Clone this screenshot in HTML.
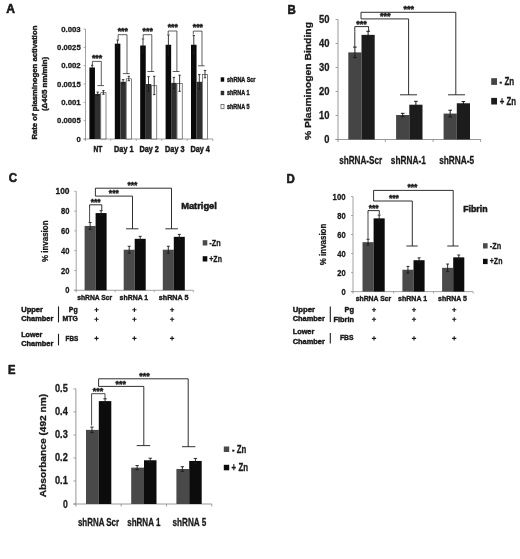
<!DOCTYPE html>
<html lang="en"><head><meta charset="utf-8"><title>Figure</title>
<style>
html,body{margin:0;padding:0;background:#fff;}
body{width:520px;height:559px;overflow:hidden;}
svg{display:block;filter:blur(0.35px);font-family:"Liberation Sans","DejaVu Sans",sans-serif;}
text{stroke:#1a1a1a;stroke-width:0.3px;stroke-linejoin:round;}
#tableC text,#tableD text{stroke-width:0.45px;}
</style></head><body>
<svg width="520" height="559" viewBox="0 0 520 559">
<rect x="0" y="0" width="520" height="559" fill="#ffffff"/>
<g id="panelA">
<text x="6.30" y="12.70" font-size="11.9" font-weight="bold" text-anchor="start" fill="#1a1a1a" textLength="8.70" lengthAdjust="spacingAndGlyphs" style="stroke-width:0.6px">A</text>
<line x1="85.50" y1="29.00" x2="85.50" y2="141.00" stroke="#8c8c8c" stroke-width="0.8" />
<line x1="83.50" y1="139.00" x2="213.00" y2="139.00" stroke="#8c8c8c" stroke-width="0.8" />
<line x1="83.50" y1="139.00" x2="85.50" y2="139.00" stroke="#8c8c8c" stroke-width="0.7" />
<text x="80.70" y="141.80" font-size="7.9" font-weight="bold" text-anchor="end" fill="#1a1a1a" textLength="4.30" lengthAdjust="spacingAndGlyphs" >0</text>
<line x1="83.50" y1="120.67" x2="85.50" y2="120.67" stroke="#8c8c8c" stroke-width="0.7" />
<text x="80.70" y="123.47" font-size="7.9" font-weight="bold" text-anchor="end" fill="#1a1a1a" textLength="23.60" lengthAdjust="spacingAndGlyphs" >0.0005</text>
<line x1="83.50" y1="102.33" x2="85.50" y2="102.33" stroke="#8c8c8c" stroke-width="0.7" />
<text x="80.70" y="105.13" font-size="7.9" font-weight="bold" text-anchor="end" fill="#1a1a1a" textLength="19.50" lengthAdjust="spacingAndGlyphs" >0.001</text>
<line x1="83.50" y1="84.00" x2="85.50" y2="84.00" stroke="#8c8c8c" stroke-width="0.7" />
<text x="80.70" y="86.80" font-size="7.9" font-weight="bold" text-anchor="end" fill="#1a1a1a" textLength="23.60" lengthAdjust="spacingAndGlyphs" >0.0015</text>
<line x1="83.50" y1="65.67" x2="85.50" y2="65.67" stroke="#8c8c8c" stroke-width="0.7" />
<text x="80.70" y="68.47" font-size="7.9" font-weight="bold" text-anchor="end" fill="#1a1a1a" textLength="19.50" lengthAdjust="spacingAndGlyphs" >0.002</text>
<line x1="83.50" y1="47.33" x2="85.50" y2="47.33" stroke="#8c8c8c" stroke-width="0.7" />
<text x="80.70" y="50.13" font-size="7.9" font-weight="bold" text-anchor="end" fill="#1a1a1a" textLength="23.60" lengthAdjust="spacingAndGlyphs" >0.0025</text>
<line x1="83.50" y1="29.00" x2="85.50" y2="29.00" stroke="#8c8c8c" stroke-width="0.7" />
<text x="80.70" y="31.80" font-size="7.9" font-weight="bold" text-anchor="end" fill="#1a1a1a" textLength="19.50" lengthAdjust="spacingAndGlyphs" >0.003</text>
<text x="36.90" y="82.60" font-size="7.6" font-weight="bold" text-anchor="middle" fill="#1a1a1a" textLength="114.00" lengthAdjust="spacingAndGlyphs" transform="rotate(-90 36.90 82.60)" style="stroke-width:0.42px">Rate of plasminogen activation</text>
<text x="47.30" y="83.90" font-size="7.6" font-weight="bold" text-anchor="middle" fill="#1a1a1a" textLength="54.20" lengthAdjust="spacingAndGlyphs" transform="rotate(-90 47.30 83.90)" style="stroke-width:0.42px">(Δ405 nm/min)</text>
<rect x="89.40" y="67.50" width="5.55" height="71.50" fill="#0a0a0a"/>
<rect x="94.95" y="93.90" width="5.55" height="45.10" fill="#2f2f2f"/>
<rect x="100.80" y="92.73" width="5.20" height="46.27" fill="#ffffff" stroke="#333" stroke-width="0.6"/>
<line x1="92.20" y1="65.30" x2="92.20" y2="69.70" stroke="#1a1a1a" stroke-width="0.85" />
<line x1="91.00" y1="65.30" x2="93.40" y2="65.30" stroke="#1a1a1a" stroke-width="0.85" />
<line x1="91.00" y1="69.70" x2="93.40" y2="69.70" stroke="#1a1a1a" stroke-width="0.85" />
<line x1="97.70" y1="92.07" x2="97.70" y2="95.73" stroke="#1a1a1a" stroke-width="0.85" />
<line x1="96.50" y1="92.07" x2="98.90" y2="92.07" stroke="#1a1a1a" stroke-width="0.85" />
<line x1="96.50" y1="95.73" x2="98.90" y2="95.73" stroke="#1a1a1a" stroke-width="0.85" />
<line x1="103.40" y1="90.60" x2="103.40" y2="94.27" stroke="#1a1a1a" stroke-width="0.85" />
<line x1="102.20" y1="90.60" x2="104.60" y2="90.60" stroke="#1a1a1a" stroke-width="0.85" />
<line x1="102.20" y1="94.27" x2="104.60" y2="94.27" stroke="#1a1a1a" stroke-width="0.85" />
<text x="98.00" y="151.60" font-size="9.2" font-weight="bold" text-anchor="middle" fill="#1a1a1a" textLength="8.80" lengthAdjust="spacingAndGlyphs" style="stroke-width:0.5px">NT</text>
<line x1="110.75" y1="139.00" x2="110.75" y2="141.00" stroke="#8c8c8c" stroke-width="0.7" />
<rect x="114.80" y="43.67" width="5.55" height="95.33" fill="#0a0a0a"/>
<rect x="120.35" y="81.80" width="5.55" height="57.20" fill="#2f2f2f"/>
<rect x="126.20" y="78.80" width="5.20" height="60.20" fill="#ffffff" stroke="#333" stroke-width="0.6"/>
<line x1="117.60" y1="40.00" x2="117.60" y2="47.33" stroke="#1a1a1a" stroke-width="0.85" />
<line x1="116.40" y1="40.00" x2="118.80" y2="40.00" stroke="#1a1a1a" stroke-width="0.85" />
<line x1="116.40" y1="47.33" x2="118.80" y2="47.33" stroke="#1a1a1a" stroke-width="0.85" />
<line x1="123.10" y1="79.60" x2="123.10" y2="84.00" stroke="#1a1a1a" stroke-width="0.85" />
<line x1="121.90" y1="79.60" x2="124.30" y2="79.60" stroke="#1a1a1a" stroke-width="0.85" />
<line x1="121.90" y1="84.00" x2="124.30" y2="84.00" stroke="#1a1a1a" stroke-width="0.85" />
<line x1="128.80" y1="76.30" x2="128.80" y2="80.70" stroke="#1a1a1a" stroke-width="0.85" />
<line x1="127.60" y1="76.30" x2="130.00" y2="76.30" stroke="#1a1a1a" stroke-width="0.85" />
<line x1="127.60" y1="80.70" x2="130.00" y2="80.70" stroke="#1a1a1a" stroke-width="0.85" />
<text x="123.80" y="151.60" font-size="9.2" font-weight="bold" text-anchor="middle" fill="#1a1a1a" textLength="19.40" lengthAdjust="spacingAndGlyphs" style="stroke-width:0.5px">Day 1</text>
<line x1="136.25" y1="139.00" x2="136.25" y2="141.00" stroke="#8c8c8c" stroke-width="0.7" />
<rect x="140.20" y="45.50" width="5.55" height="93.50" fill="#0a0a0a"/>
<rect x="145.75" y="84.00" width="5.55" height="55.00" fill="#2f2f2f"/>
<rect x="151.60" y="85.77" width="5.20" height="53.23" fill="#ffffff" stroke="#333" stroke-width="0.6"/>
<line x1="143.00" y1="38.90" x2="143.00" y2="52.10" stroke="#1a1a1a" stroke-width="0.85" />
<line x1="141.80" y1="38.90" x2="144.20" y2="38.90" stroke="#1a1a1a" stroke-width="0.85" />
<line x1="141.80" y1="52.10" x2="144.20" y2="52.10" stroke="#1a1a1a" stroke-width="0.85" />
<line x1="148.50" y1="76.67" x2="148.50" y2="91.33" stroke="#1a1a1a" stroke-width="0.85" />
<line x1="147.30" y1="76.67" x2="149.70" y2="76.67" stroke="#1a1a1a" stroke-width="0.85" />
<line x1="147.30" y1="91.33" x2="149.70" y2="91.33" stroke="#1a1a1a" stroke-width="0.85" />
<line x1="154.20" y1="76.30" x2="154.20" y2="94.63" stroke="#1a1a1a" stroke-width="0.85" />
<line x1="153.00" y1="76.30" x2="155.40" y2="76.30" stroke="#1a1a1a" stroke-width="0.85" />
<line x1="153.00" y1="94.63" x2="155.40" y2="94.63" stroke="#1a1a1a" stroke-width="0.85" />
<text x="149.20" y="151.60" font-size="9.2" font-weight="bold" text-anchor="middle" fill="#1a1a1a" textLength="19.30" lengthAdjust="spacingAndGlyphs" style="stroke-width:0.5px">Day 2</text>
<line x1="161.75" y1="139.00" x2="161.75" y2="141.00" stroke="#8c8c8c" stroke-width="0.7" />
<rect x="165.60" y="44.77" width="5.55" height="94.23" fill="#0a0a0a"/>
<rect x="171.15" y="82.90" width="5.55" height="56.10" fill="#2f2f2f"/>
<rect x="177.00" y="83.57" width="5.20" height="55.43" fill="#ffffff" stroke="#333" stroke-width="0.6"/>
<line x1="168.40" y1="34.87" x2="168.40" y2="54.67" stroke="#1a1a1a" stroke-width="0.85" />
<line x1="167.20" y1="34.87" x2="169.60" y2="34.87" stroke="#1a1a1a" stroke-width="0.85" />
<line x1="167.20" y1="54.67" x2="169.60" y2="54.67" stroke="#1a1a1a" stroke-width="0.85" />
<line x1="173.90" y1="77.40" x2="173.90" y2="88.40" stroke="#1a1a1a" stroke-width="0.85" />
<line x1="172.70" y1="77.40" x2="175.10" y2="77.40" stroke="#1a1a1a" stroke-width="0.85" />
<line x1="172.70" y1="88.40" x2="175.10" y2="88.40" stroke="#1a1a1a" stroke-width="0.85" />
<line x1="179.60" y1="75.20" x2="179.60" y2="91.33" stroke="#1a1a1a" stroke-width="0.85" />
<line x1="178.40" y1="75.20" x2="180.80" y2="75.20" stroke="#1a1a1a" stroke-width="0.85" />
<line x1="178.40" y1="91.33" x2="180.80" y2="91.33" stroke="#1a1a1a" stroke-width="0.85" />
<text x="174.80" y="151.60" font-size="9.2" font-weight="bold" text-anchor="middle" fill="#1a1a1a" textLength="19.40" lengthAdjust="spacingAndGlyphs" style="stroke-width:0.5px">Day 3</text>
<line x1="187.25" y1="139.00" x2="187.25" y2="141.00" stroke="#8c8c8c" stroke-width="0.7" />
<rect x="191.00" y="44.77" width="5.55" height="94.23" fill="#0a0a0a"/>
<rect x="196.55" y="81.80" width="5.55" height="57.20" fill="#2f2f2f"/>
<rect x="202.40" y="74.40" width="5.20" height="64.60" fill="#ffffff" stroke="#333" stroke-width="0.6"/>
<line x1="193.80" y1="35.60" x2="193.80" y2="53.93" stroke="#1a1a1a" stroke-width="0.85" />
<line x1="192.60" y1="35.60" x2="195.00" y2="35.60" stroke="#1a1a1a" stroke-width="0.85" />
<line x1="192.60" y1="53.93" x2="195.00" y2="53.93" stroke="#1a1a1a" stroke-width="0.85" />
<line x1="199.30" y1="74.47" x2="199.30" y2="89.13" stroke="#1a1a1a" stroke-width="0.85" />
<line x1="198.10" y1="74.47" x2="200.50" y2="74.47" stroke="#1a1a1a" stroke-width="0.85" />
<line x1="198.10" y1="89.13" x2="200.50" y2="89.13" stroke="#1a1a1a" stroke-width="0.85" />
<line x1="205.00" y1="70.43" x2="205.00" y2="77.77" stroke="#1a1a1a" stroke-width="0.85" />
<line x1="203.80" y1="70.43" x2="206.20" y2="70.43" stroke="#1a1a1a" stroke-width="0.85" />
<line x1="203.80" y1="77.77" x2="206.20" y2="77.77" stroke="#1a1a1a" stroke-width="0.85" />
<text x="200.20" y="151.60" font-size="9.2" font-weight="bold" text-anchor="middle" fill="#1a1a1a" textLength="19.40" lengthAdjust="spacingAndGlyphs" style="stroke-width:0.5px">Day 4</text>
<line x1="212.75" y1="139.00" x2="212.75" y2="141.00" stroke="#8c8c8c" stroke-width="0.7" />
<path d="M92.4 65 V61.4 H101.3 V85.6 M97.4 85.6 H104" fill="none" stroke="#1a1a1a" stroke-width="0.7" />
<text x="97.05" y="61.20" font-size="8.8" font-weight="bold" text-anchor="middle" fill="#1a1a1a" textLength="10.20" lengthAdjust="spacingAndGlyphs" style="stroke-width:0.5px">***</text>
<path d="M118.1 39.6 V34.7 H127 V73.6 M122.8 73.6 H129.8" fill="none" stroke="#1a1a1a" stroke-width="0.7" />
<text x="122.75" y="34.30" font-size="8.8" font-weight="bold" text-anchor="middle" fill="#1a1a1a" textLength="10.20" lengthAdjust="spacingAndGlyphs" style="stroke-width:0.5px">***</text>
<path d="M143.2 38 V34.7 H151.8 V71.5 M147.3 71.5 H154.2" fill="none" stroke="#1a1a1a" stroke-width="0.7" />
<text x="147.70" y="34.20" font-size="8.8" font-weight="bold" text-anchor="middle" fill="#1a1a1a" textLength="10.20" lengthAdjust="spacingAndGlyphs" style="stroke-width:0.5px">***</text>
<path d="M168.2 34 V31 H176.9 V71.5 M172.7 71.5 H179.6" fill="none" stroke="#1a1a1a" stroke-width="0.7" />
<text x="172.75" y="30.20" font-size="8.8" font-weight="bold" text-anchor="middle" fill="#1a1a1a" textLength="10.20" lengthAdjust="spacingAndGlyphs" style="stroke-width:0.5px">***</text>
<path d="M193.3 34.5 V31.1 H202 V65.8 M198 65.8 H204.6" fill="none" stroke="#1a1a1a" stroke-width="0.7" />
<text x="197.85" y="30.20" font-size="8.8" font-weight="bold" text-anchor="middle" fill="#1a1a1a" textLength="10.20" lengthAdjust="spacingAndGlyphs" style="stroke-width:0.5px">***</text>
<rect x="220.70" y="77.30" width="3.50" height="4.40" fill="#0a0a0a"/>
<text x="227.00" y="81.80" font-size="6.5" font-weight="bold" text-anchor="start" fill="#1a1a1a" textLength="28.50" lengthAdjust="spacingAndGlyphs" style="stroke-width:0.4px">shRNA Scr</text>
<rect x="220.70" y="90.80" width="3.50" height="4.40" fill="#2f2f2f"/>
<text x="227.00" y="95.30" font-size="6.5" font-weight="bold" text-anchor="start" fill="#1a1a1a" textLength="22.50" lengthAdjust="spacingAndGlyphs" style="stroke-width:0.4px">shRNA 1</text>
<rect x="221.00" y="104.60" width="3.00" height="4.20" fill="#fff" stroke="#333" stroke-width="0.6"/>
<text x="227.00" y="108.90" font-size="6.5" font-weight="bold" text-anchor="start" fill="#1a1a1a" textLength="22.50" lengthAdjust="spacingAndGlyphs" style="stroke-width:0.4px">shRNA 5</text>
</g>
<g id="panelB">
<text x="287.40" y="13.70" font-size="12" font-weight="bold" text-anchor="start" fill="#1a1a1a" textLength="8.30" lengthAdjust="spacingAndGlyphs" style="stroke-width:0.6px">B</text>
<line x1="338.00" y1="19.50" x2="338.00" y2="142.00" stroke="#8c8c8c" stroke-width="0.9" />
<line x1="335.50" y1="139.50" x2="481.00" y2="139.50" stroke="#8c8c8c" stroke-width="0.9" />
<line x1="335.50" y1="139.50" x2="338.00" y2="139.50" stroke="#8c8c8c" stroke-width="0.8" />
<text x="329.40" y="143.00" font-size="10.6" font-weight="bold" text-anchor="end" fill="#1a1a1a" textLength="5.20" lengthAdjust="spacingAndGlyphs" >0</text>
<line x1="335.50" y1="115.50" x2="338.00" y2="115.50" stroke="#8c8c8c" stroke-width="0.8" />
<text x="329.40" y="119.00" font-size="10.6" font-weight="bold" text-anchor="end" fill="#1a1a1a" textLength="10.50" lengthAdjust="spacingAndGlyphs" >10</text>
<line x1="335.50" y1="91.50" x2="338.00" y2="91.50" stroke="#8c8c8c" stroke-width="0.8" />
<text x="329.40" y="95.00" font-size="10.6" font-weight="bold" text-anchor="end" fill="#1a1a1a" textLength="10.50" lengthAdjust="spacingAndGlyphs" >20</text>
<line x1="335.50" y1="67.50" x2="338.00" y2="67.50" stroke="#8c8c8c" stroke-width="0.8" />
<text x="329.40" y="71.00" font-size="10.6" font-weight="bold" text-anchor="end" fill="#1a1a1a" textLength="10.50" lengthAdjust="spacingAndGlyphs" >30</text>
<line x1="335.50" y1="43.50" x2="338.00" y2="43.50" stroke="#8c8c8c" stroke-width="0.8" />
<text x="329.40" y="47.00" font-size="10.6" font-weight="bold" text-anchor="end" fill="#1a1a1a" textLength="10.50" lengthAdjust="spacingAndGlyphs" >40</text>
<line x1="335.50" y1="19.50" x2="338.00" y2="19.50" stroke="#8c8c8c" stroke-width="0.8" />
<text x="329.40" y="23.00" font-size="10.6" font-weight="bold" text-anchor="end" fill="#1a1a1a" textLength="10.50" lengthAdjust="spacingAndGlyphs" >50</text>
<text x="311.30" y="81.00" font-size="9.9" font-weight="bold" text-anchor="middle" fill="#1a1a1a" textLength="118.00" lengthAdjust="spacingAndGlyphs" transform="rotate(-90 311.30 81.00)" >% Plasminogen Binding</text>
<rect x="348.30" y="52.38" width="13.20" height="87.12" fill="#454545"/>
<rect x="361.50" y="34.86" width="13.20" height="104.64" fill="#1c1c1c"/>
<line x1="354.90" y1="47.10" x2="354.90" y2="57.66" stroke="#1a1a1a" stroke-width="1.0" />
<line x1="353.10" y1="47.10" x2="356.70" y2="47.10" stroke="#1a1a1a" stroke-width="1.0" />
<line x1="353.10" y1="57.66" x2="356.70" y2="57.66" stroke="#1a1a1a" stroke-width="1.0" />
<line x1="368.10" y1="31.26" x2="368.10" y2="38.46" stroke="#1a1a1a" stroke-width="1.0" />
<line x1="366.30" y1="31.26" x2="369.90" y2="31.26" stroke="#1a1a1a" stroke-width="1.0" />
<line x1="366.30" y1="38.46" x2="369.90" y2="38.46" stroke="#1a1a1a" stroke-width="1.0" />
<text x="360.70" y="163.50" font-size="10.6" font-weight="bold" text-anchor="middle" fill="#1a1a1a" textLength="43.00" lengthAdjust="spacingAndGlyphs" >shRNA-Scr</text>
<line x1="385.30" y1="139.50" x2="385.30" y2="142.00" stroke="#8c8c8c" stroke-width="0.8" />
<rect x="396.10" y="115.02" width="13.20" height="24.48" fill="#454545"/>
<rect x="409.30" y="104.70" width="13.20" height="34.80" fill="#1c1c1c"/>
<line x1="402.70" y1="113.34" x2="402.70" y2="116.70" stroke="#1a1a1a" stroke-width="1.0" />
<line x1="400.90" y1="113.34" x2="404.50" y2="113.34" stroke="#1a1a1a" stroke-width="1.0" />
<line x1="400.90" y1="116.70" x2="404.50" y2="116.70" stroke="#1a1a1a" stroke-width="1.0" />
<line x1="415.90" y1="101.34" x2="415.90" y2="108.06" stroke="#1a1a1a" stroke-width="1.0" />
<line x1="414.10" y1="101.34" x2="417.70" y2="101.34" stroke="#1a1a1a" stroke-width="1.0" />
<line x1="414.10" y1="108.06" x2="417.70" y2="108.06" stroke="#1a1a1a" stroke-width="1.0" />
<text x="408.30" y="163.50" font-size="10.6" font-weight="bold" text-anchor="middle" fill="#1a1a1a" textLength="35.00" lengthAdjust="spacingAndGlyphs" >shRNA-1</text>
<line x1="433.10" y1="139.50" x2="433.10" y2="142.00" stroke="#8c8c8c" stroke-width="0.8" />
<rect x="443.60" y="113.58" width="13.20" height="25.92" fill="#454545"/>
<rect x="456.80" y="103.26" width="13.20" height="36.24" fill="#1c1c1c"/>
<line x1="450.20" y1="110.22" x2="450.20" y2="116.94" stroke="#1a1a1a" stroke-width="1.0" />
<line x1="448.40" y1="110.22" x2="452.00" y2="110.22" stroke="#1a1a1a" stroke-width="1.0" />
<line x1="448.40" y1="116.94" x2="452.00" y2="116.94" stroke="#1a1a1a" stroke-width="1.0" />
<line x1="463.40" y1="101.58" x2="463.40" y2="104.94" stroke="#1a1a1a" stroke-width="1.0" />
<line x1="461.60" y1="101.58" x2="465.20" y2="101.58" stroke="#1a1a1a" stroke-width="1.0" />
<line x1="461.60" y1="104.94" x2="465.20" y2="104.94" stroke="#1a1a1a" stroke-width="1.0" />
<text x="456.70" y="163.50" font-size="10.6" font-weight="bold" text-anchor="middle" fill="#1a1a1a" textLength="35.00" lengthAdjust="spacingAndGlyphs" >shRNA-5</text>
<line x1="480.60" y1="139.50" x2="480.60" y2="142.00" stroke="#8c8c8c" stroke-width="0.8" />
<path d="M361 18.9 V12.3 H455.8 V94.8 M448 94.8 H465" fill="none" stroke="#1a1a1a" stroke-width="0.9" />
<path d="M361 18.9 H408.6 V94.8 M400 94.8 H417" fill="none" stroke="#1a1a1a" stroke-width="0.9" />
<path d="M354.8 31.5 V26.6 H368.6 V31.7" fill="none" stroke="#1a1a1a" stroke-width="0.9" />
<line x1="354.80" y1="31.50" x2="354.80" y2="47.00" stroke="#1a1a1a" stroke-width="0.9" />
<text x="361.60" y="26.80" font-size="9" font-weight="bold" text-anchor="middle" fill="#1a1a1a" textLength="10.60" lengthAdjust="spacingAndGlyphs" style="stroke-width:0.5px">***</text>
<text x="385.20" y="19.20" font-size="9" font-weight="bold" text-anchor="middle" fill="#1a1a1a" textLength="10.60" lengthAdjust="spacingAndGlyphs" style="stroke-width:0.5px">***</text>
<text x="408.70" y="12.00" font-size="9" font-weight="bold" text-anchor="middle" fill="#1a1a1a" textLength="10.60" lengthAdjust="spacingAndGlyphs" style="stroke-width:0.5px">***</text>
<rect x="491.20" y="78.20" width="5.80" height="6.70" fill="#454545"/>
<text x="499.50" y="84.90" font-size="10.2" font-weight="bold" text-anchor="start" fill="#1a1a1a" textLength="14.70" lengthAdjust="spacingAndGlyphs" >- Zn</text>
<rect x="491.20" y="97.90" width="5.80" height="6.60" fill="#1c1c1c"/>
<text x="499.80" y="104.50" font-size="10.2" font-weight="bold" text-anchor="start" fill="#1a1a1a" textLength="16.30" lengthAdjust="spacingAndGlyphs" >+ Zn</text>
</g>
<g id="panelC">
<text x="8.70" y="182.20" font-size="12.2" font-weight="bold" text-anchor="start" fill="#1a1a1a" textLength="8.30" lengthAdjust="spacingAndGlyphs" style="stroke-width:0.6px">C</text>
<line x1="76.20" y1="191.30" x2="76.20" y2="292.30" stroke="#8c8c8c" stroke-width="0.8" />
<line x1="74.20" y1="290.30" x2="193.50" y2="290.30" stroke="#8c8c8c" stroke-width="0.8" />
<line x1="74.20" y1="290.30" x2="76.20" y2="290.30" stroke="#8c8c8c" stroke-width="0.7" />
<text x="69.50" y="293.30" font-size="9" font-weight="bold" text-anchor="end" fill="#1a1a1a" textLength="4.20" lengthAdjust="spacingAndGlyphs" >0</text>
<line x1="74.20" y1="270.50" x2="76.20" y2="270.50" stroke="#8c8c8c" stroke-width="0.7" />
<text x="69.50" y="273.50" font-size="9" font-weight="bold" text-anchor="end" fill="#1a1a1a" textLength="8.40" lengthAdjust="spacingAndGlyphs" >20</text>
<line x1="74.20" y1="250.70" x2="76.20" y2="250.70" stroke="#8c8c8c" stroke-width="0.7" />
<text x="69.50" y="253.70" font-size="9" font-weight="bold" text-anchor="end" fill="#1a1a1a" textLength="8.40" lengthAdjust="spacingAndGlyphs" >40</text>
<line x1="74.20" y1="230.90" x2="76.20" y2="230.90" stroke="#8c8c8c" stroke-width="0.7" />
<text x="69.50" y="233.90" font-size="9" font-weight="bold" text-anchor="end" fill="#1a1a1a" textLength="8.40" lengthAdjust="spacingAndGlyphs" >60</text>
<line x1="74.20" y1="211.10" x2="76.20" y2="211.10" stroke="#8c8c8c" stroke-width="0.7" />
<text x="69.50" y="214.10" font-size="9" font-weight="bold" text-anchor="end" fill="#1a1a1a" textLength="8.40" lengthAdjust="spacingAndGlyphs" >80</text>
<line x1="74.20" y1="191.30" x2="76.20" y2="191.30" stroke="#8c8c8c" stroke-width="0.7" />
<text x="69.50" y="194.30" font-size="9" font-weight="bold" text-anchor="end" fill="#1a1a1a" textLength="14.00" lengthAdjust="spacingAndGlyphs" >100</text>
<text x="48.20" y="241.20" font-size="8.8" font-weight="bold" text-anchor="middle" fill="#1a1a1a" textLength="41.50" lengthAdjust="spacingAndGlyphs" transform="rotate(-90 48.20 241.20)" >% invasion</text>
<rect x="84.60" y="225.95" width="11.00" height="64.35" fill="#4a4a4a"/>
<rect x="95.60" y="213.08" width="11.00" height="77.22" fill="#0c0c0c"/>
<line x1="90.10" y1="222.49" x2="90.10" y2="229.42" stroke="#1a1a1a" stroke-width="0.9" />
<line x1="88.60" y1="222.49" x2="91.60" y2="222.49" stroke="#1a1a1a" stroke-width="0.9" />
<line x1="88.60" y1="229.42" x2="91.60" y2="229.42" stroke="#1a1a1a" stroke-width="0.9" />
<line x1="101.10" y1="210.61" x2="101.10" y2="215.56" stroke="#1a1a1a" stroke-width="0.9" />
<line x1="99.60" y1="210.61" x2="102.60" y2="210.61" stroke="#1a1a1a" stroke-width="0.9" />
<line x1="99.60" y1="215.56" x2="102.60" y2="215.56" stroke="#1a1a1a" stroke-width="0.9" />
<line x1="115.15" y1="290.30" x2="115.15" y2="292.30" stroke="#8c8c8c" stroke-width="0.7" />
<rect x="123.70" y="249.71" width="11.00" height="40.59" fill="#4a4a4a"/>
<rect x="134.70" y="238.82" width="11.00" height="51.48" fill="#0c0c0c"/>
<line x1="129.20" y1="246.25" x2="129.20" y2="253.18" stroke="#1a1a1a" stroke-width="0.9" />
<line x1="127.70" y1="246.25" x2="130.70" y2="246.25" stroke="#1a1a1a" stroke-width="0.9" />
<line x1="127.70" y1="253.18" x2="130.70" y2="253.18" stroke="#1a1a1a" stroke-width="0.9" />
<line x1="140.20" y1="236.35" x2="140.20" y2="241.30" stroke="#1a1a1a" stroke-width="0.9" />
<line x1="138.70" y1="236.35" x2="141.70" y2="236.35" stroke="#1a1a1a" stroke-width="0.9" />
<line x1="138.70" y1="241.30" x2="141.70" y2="241.30" stroke="#1a1a1a" stroke-width="0.9" />
<line x1="154.25" y1="290.30" x2="154.25" y2="292.30" stroke="#8c8c8c" stroke-width="0.7" />
<rect x="162.80" y="249.71" width="11.00" height="40.59" fill="#4a4a4a"/>
<rect x="173.80" y="236.84" width="11.00" height="53.46" fill="#0c0c0c"/>
<line x1="168.30" y1="246.25" x2="168.30" y2="253.18" stroke="#1a1a1a" stroke-width="0.9" />
<line x1="166.80" y1="246.25" x2="169.80" y2="246.25" stroke="#1a1a1a" stroke-width="0.9" />
<line x1="166.80" y1="253.18" x2="169.80" y2="253.18" stroke="#1a1a1a" stroke-width="0.9" />
<line x1="179.30" y1="234.37" x2="179.30" y2="239.31" stroke="#1a1a1a" stroke-width="0.9" />
<line x1="177.80" y1="234.37" x2="180.80" y2="234.37" stroke="#1a1a1a" stroke-width="0.9" />
<line x1="177.80" y1="239.31" x2="180.80" y2="239.31" stroke="#1a1a1a" stroke-width="0.9" />
<line x1="193.35" y1="290.30" x2="193.35" y2="292.30" stroke="#8c8c8c" stroke-width="0.7" />
<text x="181.20" y="208.80" font-size="9.3" font-weight="bold" text-anchor="start" fill="#1a1a1a" textLength="35.70" lengthAdjust="spacingAndGlyphs" style="stroke-width:0.55px">Matrigel</text>
<path d="M95.4 196.1 V188.2 H171.5 V228.8 M165.4 228.8 H177.9" fill="none" stroke="#1a1a1a" stroke-width="0.9" />
<path d="M95.4 196.1 H132.5 V228.8 M126.1 228.8 H138.5" fill="none" stroke="#1a1a1a" stroke-width="0.9" />
<path d="M89.6 208.8 V204.8 H101.8 V210" fill="none" stroke="#1a1a1a" stroke-width="0.9" />
<line x1="89.60" y1="208.80" x2="89.60" y2="222.00" stroke="#1a1a1a" stroke-width="0.8" />
<text x="95.70" y="205.30" font-size="8.6" font-weight="bold" text-anchor="middle" fill="#1a1a1a" textLength="10.00" lengthAdjust="spacingAndGlyphs" style="stroke-width:0.45px">***</text>
<text x="113.80" y="196.40" font-size="8.6" font-weight="bold" text-anchor="middle" fill="#1a1a1a" textLength="10.00" lengthAdjust="spacingAndGlyphs" style="stroke-width:0.45px">***</text>
<text x="132.45" y="188.20" font-size="8.6" font-weight="bold" text-anchor="middle" fill="#1a1a1a" textLength="10.00" lengthAdjust="spacingAndGlyphs" style="stroke-width:0.45px">***</text>
<rect x="202.70" y="240.20" width="4.60" height="5.30" fill="#4a4a4a"/>
<text x="209.30" y="245.50" font-size="9.2" font-weight="bold" text-anchor="start" fill="#1a1a1a" textLength="11.40" lengthAdjust="spacingAndGlyphs" >-Zn</text>
<rect x="202.70" y="256.20" width="4.60" height="5.30" fill="#0c0c0c"/>
<text x="209.30" y="261.50" font-size="9.2" font-weight="bold" text-anchor="start" fill="#1a1a1a" textLength="12.60" lengthAdjust="spacingAndGlyphs" >+Zn</text>
<text x="77.20" y="299.80" font-size="7.4" font-weight="bold" text-anchor="start" fill="#1a1a1a" textLength="35.00" lengthAdjust="spacingAndGlyphs" style="stroke-width:0.42px">shRNA Scr</text>
<text x="119.60" y="299.80" font-size="7.4" font-weight="bold" text-anchor="start" fill="#1a1a1a" textLength="28.60" lengthAdjust="spacingAndGlyphs" style="stroke-width:0.42px">shRNA 1</text>
<text x="158.80" y="299.80" font-size="7.4" font-weight="bold" text-anchor="start" fill="#1a1a1a" textLength="29.60" lengthAdjust="spacingAndGlyphs" style="stroke-width:0.42px">shRNA 5</text>
</g>
<g id="tableC" style="stroke-width:0.45px">
<text x="21.20" y="312.10" font-size="7.6" font-weight="bold" text-anchor="start" fill="#1a1a1a" textLength="21.80" lengthAdjust="spacingAndGlyphs" >Upper</text>
<text x="21.20" y="321.00" font-size="7.6" font-weight="bold" text-anchor="start" fill="#1a1a1a" textLength="32.10" lengthAdjust="spacingAndGlyphs" >Chamber</text>
<line x1="58.50" y1="306.40" x2="58.50" y2="322.40" stroke="#1a1a1a" stroke-width="1.1" />
<text x="77.60" y="312.20" font-size="7.4" font-weight="bold" text-anchor="end" fill="#1a1a1a" textLength="8.80" lengthAdjust="spacingAndGlyphs" >Pg</text>
<text x="77.80" y="321.10" font-size="7.4" font-weight="bold" text-anchor="end" fill="#1a1a1a" textLength="15.20" lengthAdjust="spacingAndGlyphs" >MTG</text>
<text x="21.20" y="337.10" font-size="7.6" font-weight="bold" text-anchor="start" fill="#1a1a1a" textLength="21.20" lengthAdjust="spacingAndGlyphs" >Lower</text>
<text x="21.20" y="346.20" font-size="7.6" font-weight="bold" text-anchor="start" fill="#1a1a1a" textLength="32.10" lengthAdjust="spacingAndGlyphs" >Chamber</text>
<line x1="58.50" y1="333.80" x2="58.50" y2="345.40" stroke="#1a1a1a" stroke-width="1.1" />
<text x="78.30" y="340.80" font-size="7.4" font-weight="bold" text-anchor="end" fill="#1a1a1a" textLength="12.70" lengthAdjust="spacingAndGlyphs" >FBS</text>
<path d="M94.4 309.8 H98.6 M96.5 307.7 V311.90000000000003" fill="none" stroke="#1a1a1a" stroke-width="1.1" />
<path d="M94.4 319.3 H98.6 M96.5 317.2 V321.40000000000003" fill="none" stroke="#1a1a1a" stroke-width="1.1" />
<path d="M94.4 338.4 H98.6 M96.5 336.29999999999995 V340.5" fill="none" stroke="#1a1a1a" stroke-width="1.1" />
<path d="M132.3 309.8 H136.5 M134.4 307.7 V311.90000000000003" fill="none" stroke="#1a1a1a" stroke-width="1.1" />
<path d="M132.3 319.3 H136.5 M134.4 317.2 V321.40000000000003" fill="none" stroke="#1a1a1a" stroke-width="1.1" />
<path d="M132.3 338.4 H136.5 M134.4 336.29999999999995 V340.5" fill="none" stroke="#1a1a1a" stroke-width="1.1" />
<path d="M170.0 309.8 H174.2 M172.1 307.7 V311.90000000000003" fill="none" stroke="#1a1a1a" stroke-width="1.1" />
<path d="M170.0 319.3 H174.2 M172.1 317.2 V321.40000000000003" fill="none" stroke="#1a1a1a" stroke-width="1.1" />
<path d="M170.0 338.4 H174.2 M172.1 336.29999999999995 V340.5" fill="none" stroke="#1a1a1a" stroke-width="1.1" />
</g>
<g id="panelD">
<text x="286.40" y="183.10" font-size="12.2" font-weight="bold" text-anchor="start" fill="#1a1a1a" textLength="8.30" lengthAdjust="spacingAndGlyphs" style="stroke-width:0.6px">D</text>
<line x1="353.00" y1="196.50" x2="353.00" y2="293.60" stroke="#8c8c8c" stroke-width="0.8" />
<line x1="351.00" y1="291.60" x2="473.00" y2="291.60" stroke="#8c8c8c" stroke-width="0.8" />
<line x1="351.00" y1="291.60" x2="353.00" y2="291.60" stroke="#8c8c8c" stroke-width="0.7" />
<text x="345.60" y="294.60" font-size="9" font-weight="bold" text-anchor="end" fill="#1a1a1a" textLength="4.20" lengthAdjust="spacingAndGlyphs" >0</text>
<line x1="351.00" y1="272.58" x2="353.00" y2="272.58" stroke="#8c8c8c" stroke-width="0.7" />
<text x="345.60" y="275.58" font-size="9" font-weight="bold" text-anchor="end" fill="#1a1a1a" textLength="8.40" lengthAdjust="spacingAndGlyphs" >20</text>
<line x1="351.00" y1="253.56" x2="353.00" y2="253.56" stroke="#8c8c8c" stroke-width="0.7" />
<text x="345.60" y="256.56" font-size="9" font-weight="bold" text-anchor="end" fill="#1a1a1a" textLength="8.40" lengthAdjust="spacingAndGlyphs" >40</text>
<line x1="351.00" y1="234.54" x2="353.00" y2="234.54" stroke="#8c8c8c" stroke-width="0.7" />
<text x="345.60" y="237.54" font-size="9" font-weight="bold" text-anchor="end" fill="#1a1a1a" textLength="8.40" lengthAdjust="spacingAndGlyphs" >60</text>
<line x1="351.00" y1="215.52" x2="353.00" y2="215.52" stroke="#8c8c8c" stroke-width="0.7" />
<text x="345.60" y="218.52" font-size="9" font-weight="bold" text-anchor="end" fill="#1a1a1a" textLength="8.40" lengthAdjust="spacingAndGlyphs" >80</text>
<line x1="351.00" y1="196.50" x2="353.00" y2="196.50" stroke="#8c8c8c" stroke-width="0.7" />
<text x="345.60" y="199.50" font-size="9" font-weight="bold" text-anchor="end" fill="#1a1a1a" textLength="13.00" lengthAdjust="spacingAndGlyphs" >100</text>
<text x="326.50" y="244.45" font-size="8.8" font-weight="bold" text-anchor="middle" fill="#1a1a1a" textLength="41.50" lengthAdjust="spacingAndGlyphs" transform="rotate(-90 326.50 244.45)" >% invasion</text>
<rect x="362.50" y="242.15" width="11.10" height="49.45" fill="#4a4a4a"/>
<rect x="373.60" y="218.37" width="11.10" height="73.23" fill="#0c0c0c"/>
<line x1="368.05" y1="239.30" x2="368.05" y2="245.00" stroke="#1a1a1a" stroke-width="0.9" />
<line x1="366.55" y1="239.30" x2="369.55" y2="239.30" stroke="#1a1a1a" stroke-width="0.9" />
<line x1="366.55" y1="245.00" x2="369.55" y2="245.00" stroke="#1a1a1a" stroke-width="0.9" />
<line x1="379.15" y1="215.04" x2="379.15" y2="221.70" stroke="#1a1a1a" stroke-width="0.9" />
<line x1="377.65" y1="215.04" x2="380.65" y2="215.04" stroke="#1a1a1a" stroke-width="0.9" />
<line x1="377.65" y1="221.70" x2="380.65" y2="221.70" stroke="#1a1a1a" stroke-width="0.9" />
<line x1="393.60" y1="291.60" x2="393.60" y2="293.60" stroke="#8c8c8c" stroke-width="0.7" />
<rect x="402.40" y="269.73" width="11.10" height="21.87" fill="#4a4a4a"/>
<rect x="413.50" y="260.22" width="11.10" height="31.38" fill="#0c0c0c"/>
<line x1="407.95" y1="266.40" x2="407.95" y2="273.06" stroke="#1a1a1a" stroke-width="0.9" />
<line x1="406.45" y1="266.40" x2="409.45" y2="266.40" stroke="#1a1a1a" stroke-width="0.9" />
<line x1="406.45" y1="273.06" x2="409.45" y2="273.06" stroke="#1a1a1a" stroke-width="0.9" />
<line x1="419.05" y1="257.84" x2="419.05" y2="262.59" stroke="#1a1a1a" stroke-width="0.9" />
<line x1="417.55" y1="257.84" x2="420.55" y2="257.84" stroke="#1a1a1a" stroke-width="0.9" />
<line x1="417.55" y1="262.59" x2="420.55" y2="262.59" stroke="#1a1a1a" stroke-width="0.9" />
<line x1="433.50" y1="291.60" x2="433.50" y2="293.60" stroke="#8c8c8c" stroke-width="0.7" />
<rect x="442.10" y="267.83" width="11.10" height="23.77" fill="#4a4a4a"/>
<rect x="453.20" y="257.36" width="11.10" height="34.24" fill="#0c0c0c"/>
<line x1="447.65" y1="264.02" x2="447.65" y2="271.63" stroke="#1a1a1a" stroke-width="0.9" />
<line x1="446.15" y1="264.02" x2="449.15" y2="264.02" stroke="#1a1a1a" stroke-width="0.9" />
<line x1="446.15" y1="271.63" x2="449.15" y2="271.63" stroke="#1a1a1a" stroke-width="0.9" />
<line x1="458.75" y1="254.99" x2="458.75" y2="259.74" stroke="#1a1a1a" stroke-width="0.9" />
<line x1="457.25" y1="254.99" x2="460.25" y2="254.99" stroke="#1a1a1a" stroke-width="0.9" />
<line x1="457.25" y1="259.74" x2="460.25" y2="259.74" stroke="#1a1a1a" stroke-width="0.9" />
<line x1="473.20" y1="291.60" x2="473.20" y2="293.60" stroke="#8c8c8c" stroke-width="0.7" />
<text x="463.20" y="212.30" font-size="9.3" font-weight="bold" text-anchor="start" fill="#1a1a1a" textLength="24.40" lengthAdjust="spacingAndGlyphs" style="stroke-width:0.55px">Fibrin</text>
<path d="M373.6 201 V190.4 H453.2 V246 M447.3 246 H458.6" fill="none" stroke="#1a1a1a" stroke-width="0.9" />
<path d="M373.6 201 H412.3 V246 M406.4 246 H417.7" fill="none" stroke="#1a1a1a" stroke-width="0.9" />
<path d="M368 214.6 V210.6 H379.3 V214.4" fill="none" stroke="#1a1a1a" stroke-width="0.9" />
<line x1="368.00" y1="214.60" x2="368.00" y2="239.00" stroke="#1a1a1a" stroke-width="0.8" />
<text x="373.65" y="211.10" font-size="8.6" font-weight="bold" text-anchor="middle" fill="#1a1a1a" textLength="10.00" lengthAdjust="spacingAndGlyphs" style="stroke-width:0.45px">***</text>
<text x="393.90" y="201.30" font-size="8.6" font-weight="bold" text-anchor="middle" fill="#1a1a1a" textLength="10.00" lengthAdjust="spacingAndGlyphs" style="stroke-width:0.45px">***</text>
<text x="412.40" y="190.40" font-size="8.6" font-weight="bold" text-anchor="middle" fill="#1a1a1a" textLength="10.00" lengthAdjust="spacingAndGlyphs" style="stroke-width:0.45px">***</text>
<rect x="483.00" y="243.20" width="4.60" height="5.30" fill="#4a4a4a"/>
<text x="489.80" y="248.50" font-size="9.2" font-weight="bold" text-anchor="start" fill="#1a1a1a" textLength="11.40" lengthAdjust="spacingAndGlyphs" >-Zn</text>
<rect x="483.00" y="258.80" width="4.60" height="5.30" fill="#0c0c0c"/>
<text x="489.80" y="264.10" font-size="9.2" font-weight="bold" text-anchor="start" fill="#1a1a1a" textLength="12.60" lengthAdjust="spacingAndGlyphs" >+Zn</text>
<text x="355.70" y="300.50" font-size="7.4" font-weight="bold" text-anchor="start" fill="#1a1a1a" textLength="35.50" lengthAdjust="spacingAndGlyphs" style="stroke-width:0.42px">shRNA Scr</text>
<text x="398.10" y="300.50" font-size="7.4" font-weight="bold" text-anchor="start" fill="#1a1a1a" textLength="29.00" lengthAdjust="spacingAndGlyphs" style="stroke-width:0.42px">shRNA 1</text>
<text x="438.10" y="300.50" font-size="7.4" font-weight="bold" text-anchor="start" fill="#1a1a1a" textLength="28.80" lengthAdjust="spacingAndGlyphs" style="stroke-width:0.42px">shRNA 5</text>
</g>
<g id="tableD" style="stroke-width:0.45px">
<text x="292.70" y="312.20" font-size="7.6" font-weight="bold" text-anchor="start" fill="#1a1a1a" textLength="22.30" lengthAdjust="spacingAndGlyphs" >Upper</text>
<text x="292.70" y="321.30" font-size="7.6" font-weight="bold" text-anchor="start" fill="#1a1a1a" textLength="32.10" lengthAdjust="spacingAndGlyphs" >Chamber</text>
<line x1="330.30" y1="306.60" x2="330.30" y2="322.00" stroke="#1a1a1a" stroke-width="1.1" />
<text x="354.00" y="312.20" font-size="7.4" font-weight="bold" text-anchor="end" fill="#1a1a1a" textLength="9.50" lengthAdjust="spacingAndGlyphs" >Pg</text>
<text x="354.00" y="321.70" font-size="7.4" font-weight="bold" text-anchor="end" fill="#1a1a1a" textLength="20.50" lengthAdjust="spacingAndGlyphs" >Fibrin</text>
<text x="292.70" y="334.40" font-size="7.6" font-weight="bold" text-anchor="start" fill="#1a1a1a" textLength="21.60" lengthAdjust="spacingAndGlyphs" >Lower</text>
<text x="292.70" y="343.50" font-size="7.6" font-weight="bold" text-anchor="start" fill="#1a1a1a" textLength="32.10" lengthAdjust="spacingAndGlyphs" >Chamber</text>
<line x1="330.30" y1="333.00" x2="330.30" y2="343.60" stroke="#1a1a1a" stroke-width="1.1" />
<text x="353.40" y="340.10" font-size="7.4" font-weight="bold" text-anchor="end" fill="#1a1a1a" textLength="13.50" lengthAdjust="spacingAndGlyphs" >FBS</text>
<path d="M371.9 309.8 H376.1 M374 307.7 V311.90000000000003" fill="none" stroke="#1a1a1a" stroke-width="1.1" />
<path d="M371.9 319.3 H376.1 M374 317.2 V321.40000000000003" fill="none" stroke="#1a1a1a" stroke-width="1.1" />
<path d="M371.9 338.4 H376.1 M374 336.29999999999995 V340.5" fill="none" stroke="#1a1a1a" stroke-width="1.1" />
<path d="M411.9 309.8 H416.1 M414 307.7 V311.90000000000003" fill="none" stroke="#1a1a1a" stroke-width="1.1" />
<path d="M411.9 319.3 H416.1 M414 317.2 V321.40000000000003" fill="none" stroke="#1a1a1a" stroke-width="1.1" />
<path d="M411.9 338.4 H416.1 M414 336.29999999999995 V340.5" fill="none" stroke="#1a1a1a" stroke-width="1.1" />
<path d="M452.09999999999997 309.8 H456.3 M454.2 307.7 V311.90000000000003" fill="none" stroke="#1a1a1a" stroke-width="1.1" />
<path d="M452.09999999999997 319.3 H456.3 M454.2 317.2 V321.40000000000003" fill="none" stroke="#1a1a1a" stroke-width="1.1" />
<path d="M452.09999999999997 338.4 H456.3 M454.2 336.29999999999995 V340.5" fill="none" stroke="#1a1a1a" stroke-width="1.1" />
</g>
<g id="panelE">
<text x="8.00" y="374.00" font-size="12.2" font-weight="bold" text-anchor="start" fill="#1a1a1a" textLength="7.50" lengthAdjust="spacingAndGlyphs" style="stroke-width:0.6px">E</text>
<line x1="75.90" y1="388.80" x2="75.90" y2="506.50" stroke="#8c8c8c" stroke-width="0.9" />
<line x1="73.40" y1="504.00" x2="211.80" y2="504.00" stroke="#8c8c8c" stroke-width="0.9" />
<line x1="73.40" y1="504.00" x2="75.90" y2="504.00" stroke="#8c8c8c" stroke-width="0.8" />
<text x="67.80" y="507.50" font-size="10.1" font-weight="bold" text-anchor="end" fill="#1a1a1a" textLength="4.80" lengthAdjust="spacingAndGlyphs" >0</text>
<line x1="73.40" y1="480.98" x2="75.90" y2="480.98" stroke="#8c8c8c" stroke-width="0.8" />
<text x="67.80" y="484.48" font-size="10.1" font-weight="bold" text-anchor="end" fill="#1a1a1a" textLength="12.80" lengthAdjust="spacingAndGlyphs" >0.1</text>
<line x1="73.40" y1="457.96" x2="75.90" y2="457.96" stroke="#8c8c8c" stroke-width="0.8" />
<text x="67.80" y="461.46" font-size="10.1" font-weight="bold" text-anchor="end" fill="#1a1a1a" textLength="12.80" lengthAdjust="spacingAndGlyphs" >0.2</text>
<line x1="73.40" y1="434.94" x2="75.90" y2="434.94" stroke="#8c8c8c" stroke-width="0.8" />
<text x="67.80" y="438.44" font-size="10.1" font-weight="bold" text-anchor="end" fill="#1a1a1a" textLength="12.80" lengthAdjust="spacingAndGlyphs" >0.3</text>
<line x1="73.40" y1="411.92" x2="75.90" y2="411.92" stroke="#8c8c8c" stroke-width="0.8" />
<text x="67.80" y="415.42" font-size="10.1" font-weight="bold" text-anchor="end" fill="#1a1a1a" textLength="12.80" lengthAdjust="spacingAndGlyphs" >0.4</text>
<line x1="73.40" y1="388.90" x2="75.90" y2="388.90" stroke="#8c8c8c" stroke-width="0.8" />
<text x="67.80" y="392.40" font-size="10.1" font-weight="bold" text-anchor="end" fill="#1a1a1a" textLength="12.80" lengthAdjust="spacingAndGlyphs" >0.5</text>
<text x="46.20" y="445.50" font-size="9.6" font-weight="bold" text-anchor="middle" fill="#1a1a1a" textLength="103.50" lengthAdjust="spacingAndGlyphs" transform="rotate(-90 46.20 445.50)" >Absorbance (492 nm)</text>
<rect x="86.00" y="429.88" width="12.80" height="74.12" fill="#494949"/>
<rect x="98.80" y="401.10" width="12.50" height="102.90" fill="#0c0c0c"/>
<line x1="91.95" y1="427.11" x2="91.95" y2="432.64" stroke="#1a1a1a" stroke-width="0.9" />
<line x1="90.25" y1="427.11" x2="93.65" y2="427.11" stroke="#1a1a1a" stroke-width="0.9" />
<line x1="90.25" y1="432.64" x2="93.65" y2="432.64" stroke="#1a1a1a" stroke-width="0.9" />
<line x1="105.05" y1="398.80" x2="105.05" y2="403.40" stroke="#1a1a1a" stroke-width="0.9" />
<line x1="103.35" y1="398.80" x2="106.75" y2="398.80" stroke="#1a1a1a" stroke-width="0.9" />
<line x1="103.35" y1="403.40" x2="106.75" y2="403.40" stroke="#1a1a1a" stroke-width="0.9" />
<line x1="121.20" y1="504.00" x2="121.20" y2="506.50" stroke="#8c8c8c" stroke-width="0.8" />
<rect x="131.20" y="467.63" width="12.80" height="36.37" fill="#494949"/>
<rect x="144.00" y="460.26" width="12.50" height="43.74" fill="#0c0c0c"/>
<line x1="137.15" y1="465.56" x2="137.15" y2="469.70" stroke="#1a1a1a" stroke-width="0.9" />
<line x1="135.45" y1="465.56" x2="138.85" y2="465.56" stroke="#1a1a1a" stroke-width="0.9" />
<line x1="135.45" y1="469.70" x2="138.85" y2="469.70" stroke="#1a1a1a" stroke-width="0.9" />
<line x1="150.25" y1="458.19" x2="150.25" y2="462.33" stroke="#1a1a1a" stroke-width="0.9" />
<line x1="148.55" y1="458.19" x2="151.95" y2="458.19" stroke="#1a1a1a" stroke-width="0.9" />
<line x1="148.55" y1="462.33" x2="151.95" y2="462.33" stroke="#1a1a1a" stroke-width="0.9" />
<line x1="166.50" y1="504.00" x2="166.50" y2="506.50" stroke="#8c8c8c" stroke-width="0.8" />
<rect x="176.40" y="469.01" width="12.80" height="34.99" fill="#494949"/>
<rect x="189.20" y="460.95" width="12.50" height="43.05" fill="#0c0c0c"/>
<line x1="182.35" y1="466.71" x2="182.35" y2="471.31" stroke="#1a1a1a" stroke-width="0.9" />
<line x1="180.65" y1="466.71" x2="184.05" y2="466.71" stroke="#1a1a1a" stroke-width="0.9" />
<line x1="180.65" y1="471.31" x2="184.05" y2="471.31" stroke="#1a1a1a" stroke-width="0.9" />
<line x1="195.45" y1="458.42" x2="195.45" y2="463.48" stroke="#1a1a1a" stroke-width="0.9" />
<line x1="193.75" y1="458.42" x2="197.15" y2="458.42" stroke="#1a1a1a" stroke-width="0.9" />
<line x1="193.75" y1="463.48" x2="197.15" y2="463.48" stroke="#1a1a1a" stroke-width="0.9" />
<line x1="211.80" y1="504.00" x2="211.80" y2="506.50" stroke="#8c8c8c" stroke-width="0.8" />
<path d="M98.6 386.4 V378.8 H188.2 V446.7 M182 446.7 H195.4" fill="none" stroke="#1a1a1a" stroke-width="0.9" />
<path d="M98.6 386.4 H143.8 V445.6 M136.7 445.6 H150.2" fill="none" stroke="#1a1a1a" stroke-width="0.9" />
<path d="M91.6 398 V393.7 H105 V399" fill="none" stroke="#1a1a1a" stroke-width="0.8" />
<line x1="91.60" y1="398.00" x2="91.60" y2="425.50" stroke="#1a1a1a" stroke-width="0.8" />
<text x="98.00" y="393.80" font-size="9" font-weight="bold" text-anchor="middle" fill="#1a1a1a" textLength="10.40" lengthAdjust="spacingAndGlyphs" style="stroke-width:0.5px">***</text>
<text x="120.75" y="386.60" font-size="9" font-weight="bold" text-anchor="middle" fill="#1a1a1a" textLength="10.40" lengthAdjust="spacingAndGlyphs" style="stroke-width:0.5px">***</text>
<text x="144.50" y="378.60" font-size="9" font-weight="bold" text-anchor="middle" fill="#1a1a1a" textLength="10.40" lengthAdjust="spacingAndGlyphs" style="stroke-width:0.5px">***</text>
<text x="77.90" y="526.30" font-size="10.4" font-weight="bold" text-anchor="start" fill="#1a1a1a" textLength="41.20" lengthAdjust="spacingAndGlyphs" >shRNA Scr</text>
<text x="127.20" y="526.30" font-size="10.4" font-weight="bold" text-anchor="start" fill="#1a1a1a" textLength="33.20" lengthAdjust="spacingAndGlyphs" >shRNA 1</text>
<text x="172.50" y="526.30" font-size="10.4" font-weight="bold" text-anchor="start" fill="#1a1a1a" textLength="33.70" lengthAdjust="spacingAndGlyphs" >shRNA 5</text>
<rect x="223.80" y="446.50" width="5.40" height="5.50" fill="#494949"/>
<text x="232.00" y="452.60" font-size="10.2" font-weight="bold" text-anchor="start" fill="#1a1a1a" textLength="14.30" lengthAdjust="spacingAndGlyphs" >- Zn</text>
<rect x="223.80" y="464.80" width="5.40" height="5.50" fill="#0c0c0c"/>
<text x="231.60" y="471.00" font-size="10.2" font-weight="bold" text-anchor="start" fill="#1a1a1a" textLength="16.40" lengthAdjust="spacingAndGlyphs" >+ Zn</text>
</g>
</svg></body></html>
